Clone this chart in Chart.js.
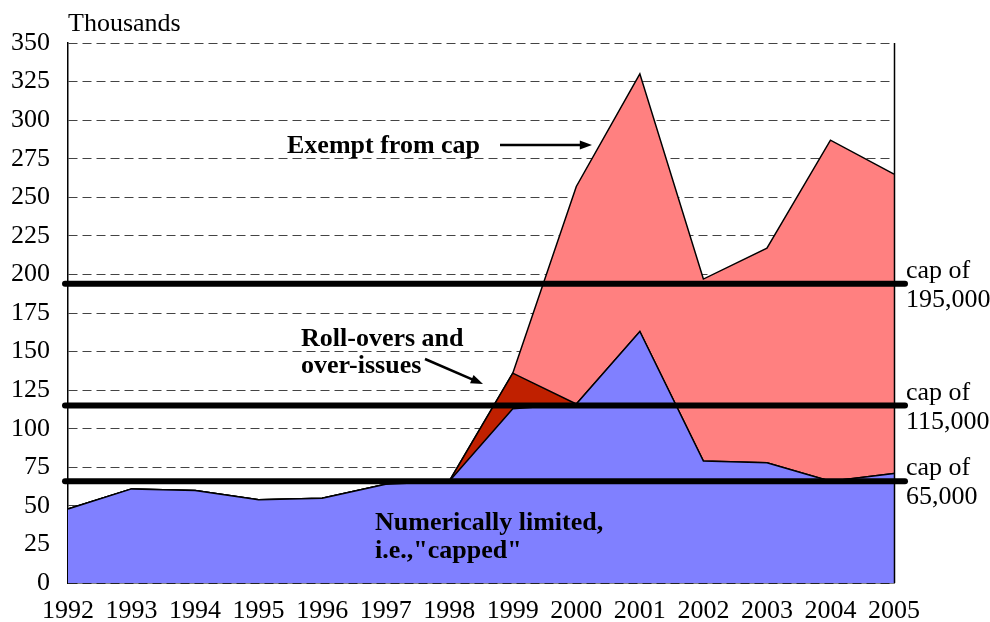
<!DOCTYPE html>
<html>
<head>
<meta charset="utf-8">
<script src="https://cdn.jsdelivr.net/npm/chart.js@4/dist/chart.umd.min.js"></script>
<style>
  html, body { margin: 0; padding: 0; background: #fff; }
  #wrap { width: 990px; height: 622px; }
</style>
</head>
<body>
<div id="wrap"><canvas id="grafico" width="990" height="622"></canvas></div>
<script>
// datos (miles)
const anios = ['1992', '1993', '1994', '1995', '1996', '1997', '1998', '1999', '2000', '2001', '2002', '2003', '2004', '2005'];
const limitados = [48, 61, 60, 54, 55, 64, 66, 113, 116, 163, 79, 78, 66, 71];
const renovaciones = [0, 0, 0, 0, 0, 0, 0, 23, 0, 0, 0, 0, 0, 0];
const exentos = [0, 0, 0, 0, 0, 0, 0, 0, 141, 167, 118, 139, 221, 194];
const topes = [194, 115, 66];
const etiquetasTope = [['cap of', '195,000'], ['cap of', '115,000'], ['cap of', '65,000']];

const fuente = '"Liberation Serif", "Times New Roman", serif';

// lineas de tope, marco y anotaciones
const extras = {
    id: 'extras',
    afterDatasetsDraw(chart) {
        const ctx = chart.ctx;
        const area = chart.chartArea;
        const y = chart.scales.y;

        // borde derecho del area
        ctx.save();
        ctx.strokeStyle = '#000';
        ctx.lineWidth = 1.5;
        ctx.beginPath();
        ctx.moveTo(area.right + 0.5, area.top);
        ctx.lineTo(area.right + 0.5, area.bottom);
        ctx.stroke();

        // lineas gruesas de tope
        ctx.lineWidth = 6;
        ctx.lineCap = 'round';
        topes.forEach(t => {
            const py = y.getPixelForValue(t);
            ctx.beginPath();
            ctx.moveTo(area.left - 3, py);
            ctx.lineTo(area.right + 11, py);
            ctx.stroke();
        });
        ctx.restore();

        // textos de tope a la derecha
        ctx.save();
        ctx.fillStyle = '#000';
        ctx.font = '26px ' + fuente;
        ctx.textBaseline = 'alphabetic';
        topes.forEach((t, i) => {
            const py = y.getPixelForValue(t);
            ctx.fillText(etiquetasTope[i][0], 906, py - 6);
            ctx.fillText(etiquetasTope[i][1], 906, py + 23);
        });

        ctx.fillText('Thousands', 68, 31);

        ctx.font = 'bold 26px ' + fuente;
        ctx.fillText('Exempt from cap', 287, 153);
        ctx.fillText('Roll-overs and', 301, 346);
        ctx.fillText('over-issues', 301, 373);
        ctx.fillText('Numerically limited,', 375, 530);
        ctx.fillText('i.e.,"capped"', 375, 558);
        ctx.restore();

        flecha(ctx, 500, 145, 592, 145);
        flecha(ctx, 425, 359, 483, 384);
    }
};

function flecha(ctx, x1, y1, x2, y2) {
    const ang = Math.atan2(y2 - y1, x2 - x1);
    const largo = 13;
    ctx.save();
    ctx.strokeStyle = '#000';
    ctx.fillStyle = '#000';
    ctx.lineWidth = 2.5;
    ctx.beginPath();
    ctx.moveTo(x1, y1);
    ctx.lineTo(x2 - Math.cos(ang) * 8, y2 - Math.sin(ang) * 8);
    ctx.stroke();
    ctx.beginPath();
    ctx.moveTo(x2, y2);
    ctx.lineTo(x2 - largo * Math.cos(ang - 0.35), y2 - largo * Math.sin(ang - 0.35));
    ctx.lineTo(x2 - largo * Math.cos(ang + 0.35), y2 - largo * Math.sin(ang + 0.35));
    ctx.closePath();
    ctx.fill();
    ctx.restore();
}

const ctx = document.getElementById('grafico').getContext('2d');
new Chart(ctx, {
    type: 'line',
    data: {
        labels: anios,
        datasets: [
            {
                label: 'Numerically limited',
                data: limitados,
                backgroundColor: '#8080FF',
                borderColor: '#000',
                borderWidth: 1.5,
                fill: 'origin',
                pointRadius: 0
            },
            {
                label: 'Roll-overs and over-issues',
                data: renovaciones,
                backgroundColor: '#C02000',
                borderColor: '#000',
                borderWidth: 1.5,
                fill: '-1',
                pointRadius: 0
            },
            {
                label: 'Exempt from cap',
                data: exentos,
                backgroundColor: '#FF8080',
                borderColor: '#000',
                borderWidth: 1.5,
                fill: '-1',
                pointRadius: 0
            }
        ]
    },
    options: {
        responsive: false,
        animation: false,
        layout: { padding: { top: 43, right: 96, left: 0, bottom: 0 } },
        plugins: {
            legend: { display: false },
            tooltip: { enabled: false }
        },
        elements: { line: { tension: 0 } },
        scales: {
            x: {
                grid: { display: false, drawTicks: false },
                border: { display: true, color: '#000', width: 1.5 },
                ticks: {
                    color: '#000',
                    font: { family: fuente, size: 26 },
                    padding: 13,
                    maxRotation: 0,
                    autoSkip: false
                },
                afterFit(scale) { scale.height = 39; }
            },
            y: {
                stacked: true,
                min: 0,
                max: 350,
                grid: { color: '#444', lineWidth: 1, drawTicks: false },
                border: { display: true, color: '#000', width: 1.5, dash: [9, 5] },
                ticks: {
                    stepSize: 25,
                    color: '#000',
                    font: { family: fuente, size: 26 },
                    padding: 18
                },
                afterFit(scale) { scale.width = 68; }
            }
        }
    },
    plugins: [extras]
});
</script>
</body>
</html>
